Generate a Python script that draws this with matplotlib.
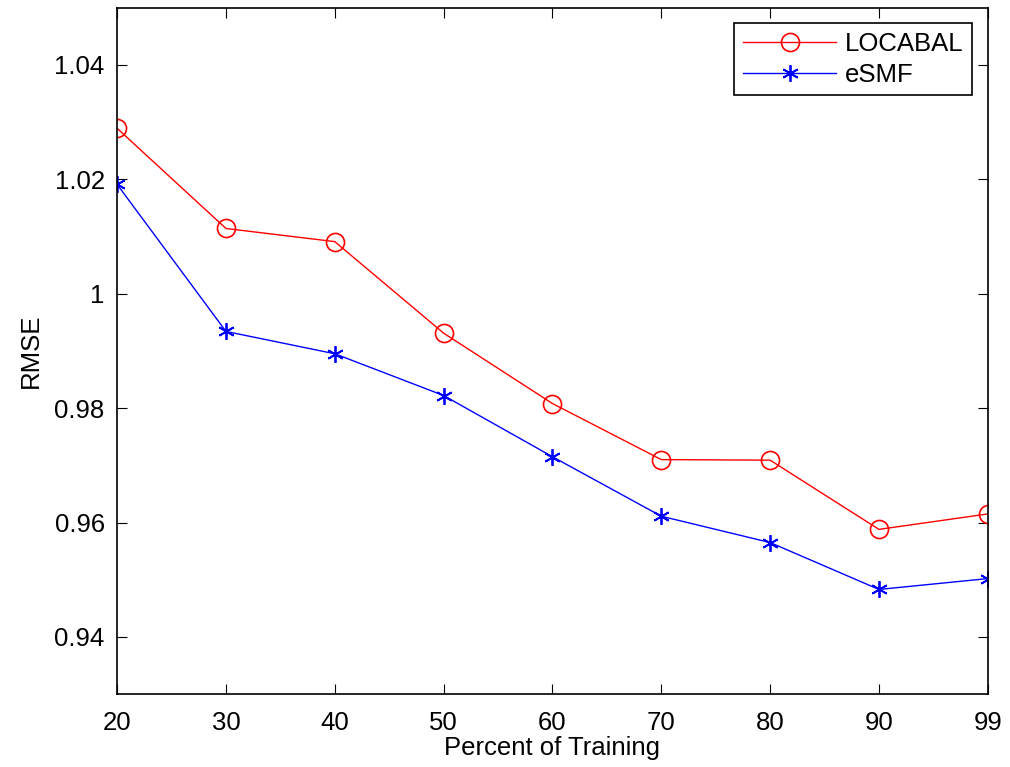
import matplotlib
matplotlib.use("Agg")
import matplotlib.pyplot as plt

plt.rcParams['font.family'] = ['Liberation Sans', 'DejaVu Sans']

persen = ["20", "30", "40", "50", "60", "70", "80", "90", "99"]
locabal = [1.0289, 1.0114, 1.0091, 0.9931, 0.9808, 0.9710, 0.9709, 0.9588, 0.9615]
esmf = [1.0191, 0.9934, 0.9895, 0.9822, 0.9715, 0.9611, 0.9565, 0.9483, 0.9502]

x = list(range(len(persen)))

fig = plt.figure(figsize=(10.1, 7.67), dpi=100)
ax = fig.add_axes([0.116, 0.095, 0.862, 0.895])

ax.plot(x, locabal, color='red', lw=1, marker='o', ms=13, mfc='none', mew=1.2, label='LOCABAL')
# asterisk marker like matlab
ax.plot(x, esmf, color='blue', lw=1, marker=(6, 2, 0), ms=12, mew=1.3, label='eSMF')

ax.set_xlim(0, len(persen) - 1)
ax.set_ylim(0.93, 1.05)
ax.set_xticks(x)
ax.set_xticklabels(persen)
ax.set_yticks([0.94, 0.96, 0.98, 1.0, 1.02, 1.04])
ax.set_yticklabels(['0.94', '0.96', '0.98', '1', '1.02', '1.04'])
ax.tick_params(direction='in', top=True, right=True, labelsize=18.5, length=7, pad=12)
ax.tick_params(axis='y', pad=9)
for s in ax.spines.values():
    s.set_linewidth(1.2)

ax.set_xlabel('Percent of Training', fontsize=18.5, labelpad=1)
ax.set_ylabel('RMSE', fontsize=18.5, labelpad=8)

leg = ax.legend(loc='upper right', fontsize=18.5, fancybox=False, framealpha=1,
                edgecolor='black', handlelength=3.6, handletextpad=0.35,
                borderaxespad=0.6, labelspacing=0.25, borderpad=0.35)
leg.get_frame().set_linewidth(1.2)

fig.savefig('out.png')
